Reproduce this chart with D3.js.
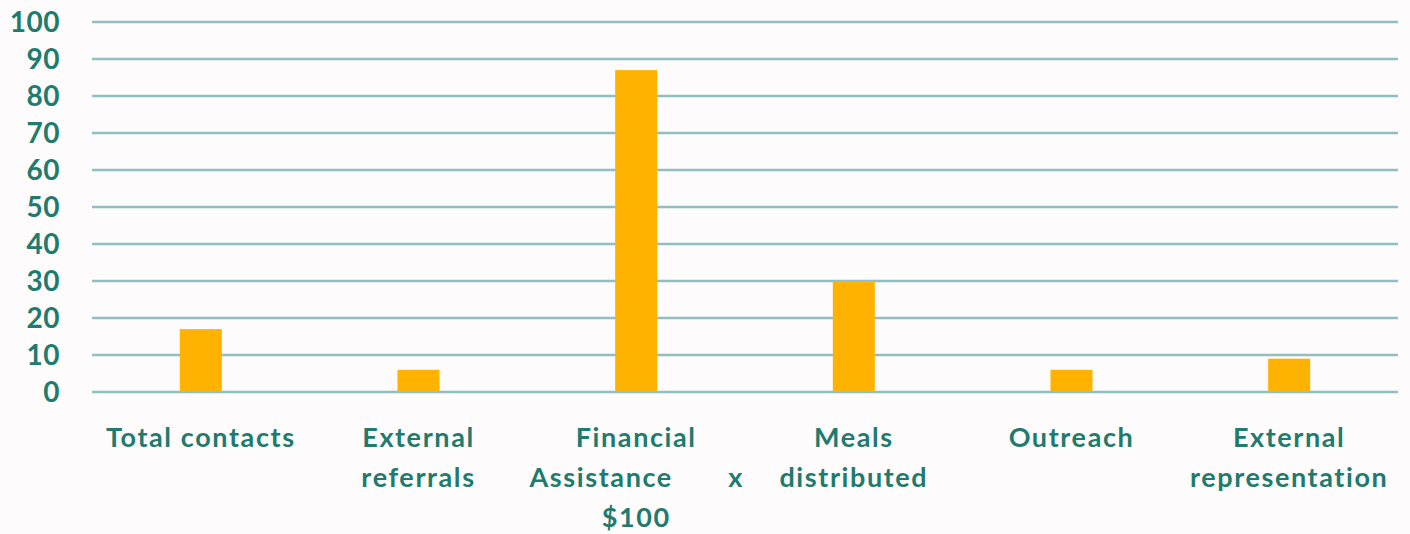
<!DOCTYPE html>
<html>
<head>
<meta charset="utf-8">
<script src="https://cdn.jsdelivr.net/npm/d3@7"></script>
<style>
  html, body { margin: 0; padding: 0; background: #fdfbfb; }
  text { font-family: Lato, "Open Sans", sans-serif; fill: #1e7b6e; font-weight: bold; }
</style>
</head>
<body>
<div id="chart"></div>
<script>
var width = 1410;
var height = 534;

// chart data
var categories = ["Total contacts", "External referrals", "Financial Assistance x $100",
  "Meals distributed", "Outreach", "External representation"];
var values = [17, 6, 87, 30, 6, 9];
var labelLines = [
  ["Total contacts"],
  ["External", "referrals"],
  ["Financial", "Assistance|x", "$100"],
  ["Meals", "distributed"],
  ["Outreach"],
  ["External", "representation"]
];
var yTicks = [0, 10, 20, 30, 40, 50, 60, 70, 80, 90, 100];

var margin = {top: 22, right: 12, bottom: 142, left: 92};

var svg = d3.select("#chart").append("svg")
  .attr("width", width)
  .attr("height", height);

var x = d3.scaleBand()
  .domain(categories)
  .range([margin.left, width - margin.right])
  .paddingInner(0.807)
  .paddingOuter(0.4035);

var y = d3.scaleLinear()
  .domain([0, 100])
  .range([height - margin.bottom, margin.top]);

// gridlines
svg.append("g")
  .selectAll("line")
  .data(yTicks)
  .enter().append("line")
  .attr("x1", margin.left)
  .attr("x2", width - margin.right)
  .attr("y1", function(d) { return y(d); })
  .attr("y2", function(d) { return y(d); })
  .attr("stroke", "#90bec2")
  .attr("stroke-width", 2.5);

// y labels
svg.append("g")
  .selectAll("text")
  .data(yTicks)
  .enter().append("text")
  .attr("x", 60)
  .attr("y", function(d) { return y(d); })
  .attr("dy", "0.36em")
  .attr("text-anchor", "end")
  .style("font-size", "28px")
  .style("letter-spacing", "0.5px")
  .text(function(d) { return d; });

// bars
svg.append("g")
  .selectAll("rect")
  .data(values)
  .enter().append("rect")
  .attr("x", function(d, i) { return x(categories[i]); })
  .attr("width", x.bandwidth())
  .attr("y", function(d) { return y(d); })
  .attr("height", function(d) { return y(0) - y(d); })
  .attr("fill", "#ffb300");

// category labels
var lab = svg.append("g")
  .selectAll("text")
  .data(categories)
  .enter().append("text")
  .attr("text-anchor", "middle")
  .style("font-size", "27px")
  .style("letter-spacing", "1.6px")
  .attr("transform", function(d) {
    return "translate(" + (x(d) + x.bandwidth() / 2) + "," + 447 + ")";
  });

lab.each(function(d, i) {
  var t = d3.select(this);
  labelLines[i].forEach(function(line, j) {
    var parts = line.split("|");
    if (parts.length === 1) {
      t.append("tspan").attr("x", 0).attr("y", j * 40).text(line);
    } else {
      // line with a detached "x" to the right
      t.append("tspan").attr("x", -35).attr("y", j * 40).text(parts[0]);
      t.append("tspan").attr("x", 100).attr("y", j * 40).text(parts[1]);
    }
  });
});
</script>
</body>
</html>
